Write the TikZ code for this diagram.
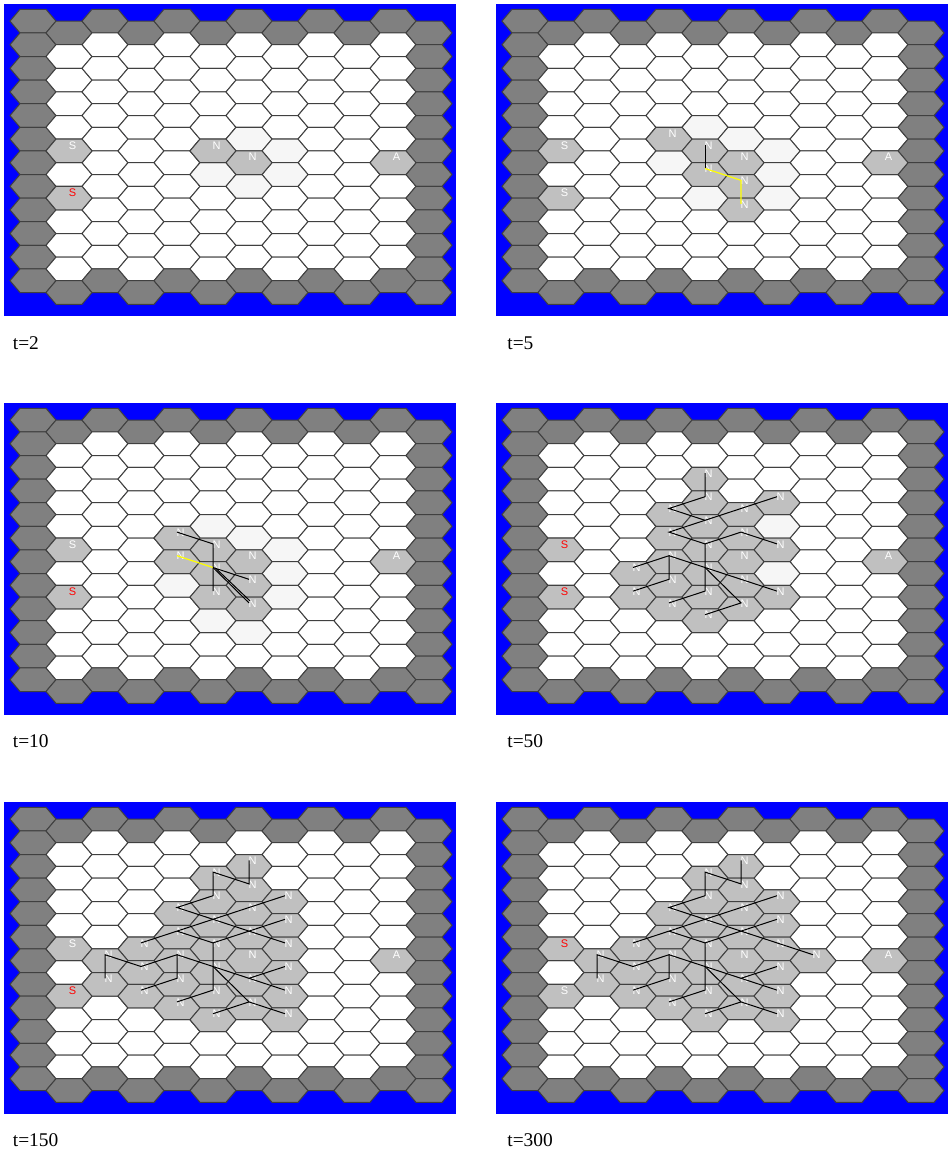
\documentclass[tikz,border=0pt]{standalone}
\usepackage{fontspec}
\setmainfont{Liberation Serif}
\newfontfamily\lblfont{Liberation Sans}
\definecolor{bluebg}{RGB}{0,0,255}
\definecolor{darkcell}{RGB}{128,128,128}
\definecolor{graycell}{RGB}{192,192,192}
\definecolor{lightcell}{RGB}{246,246,246}
\definecolor{edgecol}{RGB}{64,64,64}
\definecolor{pathyellow}{RGB}{255,255,0}
\tikzset{
  hexs/.style={draw=edgecol, line width=0.5pt, line join=miter},
  lbl/.style={text=white, font=\lblfont\fontsize{5.5}{6}\selectfont, inner sep=0pt},
  redlbl/.style={lbl, text=red},
  conn/.style={draw=black, line width=0.5pt},
  yconn/.style={draw=pathyellow, line width=0.6pt},
  caption/.style={font=\fontsize{9.7}{11}\selectfont, anchor=base west, inner sep=0pt},
}
% hexagon cell at column #1, row #2, filled with #3
\newcommand\hexcell[3]{\path[hexs,fill=#3] ({29+36*(#1)-23},{17.1+23.6*(#2)+11.8*mod(#1,2)}) -- ++(10,-11.8) -- ++(26,0) -- ++(10,11.8) -- ++(-10,11.8) -- ++(-26,0) -- cycle;}
\newcommand\panelbg{%
  \fill[bluebg] (0,0) rectangle (452,312);
  \foreach \gc in {0,...,11}{\foreach \gr in {0,...,11}{%
    \pgfmathtruncatemacro\isb{(\gc==0)+(\gc==11)+(\gr==0)+(\gr==11)}%
    \ifnum\isb>0 \hexcell{\gc}{\gr}{darkcell}\else\hexcell{\gc}{\gr}{white}\fi}}}
\newcommand\lightcells[1]{\foreach \cc/\rr in {#1}{\hexcell{\cc}{\rr}{lightcell}}}
% labelled cell: #1 panel prefix, #2 col, #3 row, #4 text, #5 label style, #6 fill
\newcommand\lab[6]{%
  \hexcell{#2}{#3}{#6}
  \node[#5] (#1n#2x#3) at ({29+36*(#2)+3.5},{17.1+23.6*(#3)+11.8*mod(#2,2)-5.5}) {#4};
  \coordinate (#1p#2x#3) at ({29+36*(#2)},{17.1+23.6*(#3)+11.8*mod(#2,2)-6});}
\newcommand\nset[2]{\foreach \cc/\rr in {#2}{\lab{#1}{\cc}{\rr}{N}{lbl}{graycell}}}
\begin{document}
\begin{tikzpicture}[x=0.5pt,y=-0.5pt]
\useasboundingbox (0,0) rectangle (948,1153);
\fill[white] (0,0) rectangle (948,1153);

% ---------- Panel 1: t=2
\begin{scope}[shift={(4,4)}]
\panelbg
\lightcells{6/5,7/5,5/6,7/6,6/7}
\lab{a}{1}{5}{S}{lbl}{graycell}
\lab{a}{1}{7}{S}{redlbl}{graycell}
\nset{a}{5/5,6/6}
\lab{a}{10}{6}{A}{lbl}{graycell}
\end{scope}
\node[caption] (capa) at (12.5,349) {t=2};

% ---------- Panel 2: t=5
\begin{scope}[shift={(496,4)}]
\panelbg
\lightcells{5/4,6/5,7/5,7/6,7/7,4/6,5/7}
\lab{b}{1}{5}{S}{lbl}{graycell}
\lab{b}{1}{7}{S}{lbl}{graycell}
\nset{b}{4/5,5/5,6/6,5/6,6/7,6/8}
\lab{b}{10}{6}{A}{lbl}{graycell}
\draw[conn] (bp5x5) -- (bp5x6);
\draw[yconn] (bp5x6) -- (bp6x7) -- (bp6x8);
\end{scope}
\node[caption] (capb) at (507,349) {t=5};

% ---------- Panel 3: t=10
\begin{scope}[shift={(4,403)}]
\panelbg
\lightcells{5/4,6/5,7/5,7/6,7/7,4/7,5/8,6/9}
\lab{c}{1}{5}{S}{lbl}{graycell}
\lab{c}{1}{7}{S}{redlbl}{graycell}
\nset{c}{4/5,5/5,4/6,6/6,5/6,6/7,5/7,6/8}
\lab{c}{10}{6}{A}{lbl}{graycell}
\draw[conn] (cp4x5) -- (cp5x5) -- (cp5x6) -- (cp5x7);
\draw[yconn] (cp4x6) -- (cp5x6);
\draw[conn] (cp5x6) -- (cp6x7);
\draw[conn] (cp5x6) -- (cp6x8);
\draw[conn] ([shift={(3,1)}]cp5x6) -- ([shift={(1,-2)}]cp6x8);
\end{scope}
\node[caption] (capc) at (12.5,747.5) {t=10};

% ---------- Panel 4: t=50
\begin{scope}[shift={(496,403)}]
\panelbg
\lightcells{7/4,7/6}
\lab{d}{1}{5}{S}{redlbl}{graycell}
\lab{d}{1}{7}{S}{redlbl}{graycell}
\nset{d}{5/2,5/3,7/3,4/4,6/4,5/4,4/5,6/5,7/5,5/5,6/6,4/6,3/6,5/6,4/7,6/7,7/7,3/7,5/7,4/8,6/8,5/8}
\lab{d}{10}{6}{A}{lbl}{graycell}
\draw[conn] (dp5x2) -- (dp5x3) -- (dp4x4) -- (dp5x4);
\draw[conn] (dp7x3) -- (dp6x4) -- (dp5x4) -- (dp4x5) -- (dp5x5) -- (dp6x5) -- (dp7x5);
\draw[conn] (dp5x5) -- (dp5x6) -- (dp5x7) -- (dp4x8);
\draw[conn] (dp3x6) -- (dp4x6) -- (dp4x7) -- (dp3x7);
\draw[conn] (dp4x6) -- (dp5x6) -- (dp6x7) -- (dp7x7);
\draw[conn] (dp5x6) -- (dp6x8) -- (dp5x8);
\end{scope}
\node[caption] (capd) at (507,747.5) {t=50};

% ---------- Panel 5: t=150
\begin{scope}[shift={(4,802)}]
\panelbg
\lab{e}{1}{5}{S}{lbl}{graycell}
\lab{e}{1}{7}{S}{redlbl}{graycell}
\nset{e}{6/2,5/2,6/3,5/3,7/3,4/4,6/4,5/4,7/4,4/5,6/5,3/5,5/5,7/5,2/6,4/6,6/6,3/6,5/6,7/6,2/7,4/7,6/7,3/7,5/7,7/7,4/8,6/8,5/8,7/8}
\lab{e}{10}{6}{A}{lbl}{graycell}
\draw[conn] (ep6x2) -- (ep6x3) -- (ep5x2) -- (ep5x3) -- (ep4x4) -- (ep5x4) -- (ep6x5) -- (ep7x5);
\draw[conn] (ep7x3) -- (ep6x4) -- (ep5x4) -- (ep4x5) -- (ep3x5);
\draw[conn] (ep4x5) -- (ep5x5) -- (ep6x5) -- (ep7x4);
\draw[conn] (ep5x5) -- (ep5x6) -- (ep5x7) -- (ep4x8);
\draw[conn] (ep2x7) -- (ep2x6) -- (ep3x6) -- (ep4x6) -- (ep4x7) -- (ep3x7);
\draw[conn] (ep4x6) -- (ep5x6) -- (ep6x7) -- (ep7x7);
\draw[conn] (ep6x7) -- (ep7x6);
\draw[conn] (ep5x6) -- (ep6x8) -- (ep7x8);
\draw[conn] (ep5x8) -- (ep6x8);
\end{scope}
\node[caption] (cape) at (12.5,1146) {t=150};

% ---------- Panel 6: t=300
\begin{scope}[shift={(496,802)}]
\panelbg
\lab{f}{1}{5}{S}{redlbl}{graycell}
\lab{f}{1}{7}{S}{lbl}{graycell}
\nset{f}{6/2,5/2,6/3,5/3,7/3,4/4,6/4,5/4,7/4,4/5,6/5,3/5,5/5,7/5,8/6,2/6,4/6,6/6,3/6,5/6,7/6,2/7,4/7,6/7,3/7,5/7,7/7,4/8,6/8,5/8,7/8}
\lab{f}{10}{6}{A}{lbl}{graycell}
\draw[conn] (fp6x2) -- (fp6x3) -- (fp5x2) -- (fp5x3) -- (fp4x4) -- (fp5x4) -- (fp6x5) -- (fp7x5) -- (fp8x6);
\draw[conn] (fp7x3) -- (fp6x4) -- (fp5x4) -- (fp4x5) -- (fp3x5);
\draw[conn] (fp4x5) -- (fp5x5) -- (fp6x5) -- (fp7x4);
\draw[conn] (fp5x5) -- (fp5x6) -- (fp5x7) -- (fp4x8);
\draw[conn] (fp2x7) -- (fp2x6) -- (fp3x6) -- (fp4x6) -- (fp4x7) -- (fp3x7);
\draw[conn] (fp4x6) -- (fp5x6) -- (fp6x7) -- (fp7x7);
\draw[conn] (fp6x7) -- (fp7x6);
\draw[conn] (fp5x6) -- (fp6x8) -- (fp7x8);
\draw[conn] (fp5x8) -- (fp6x8);
\end{scope}
\node[caption] (capf) at (507,1146) {t=300};
\end{tikzpicture}
\end{document}
